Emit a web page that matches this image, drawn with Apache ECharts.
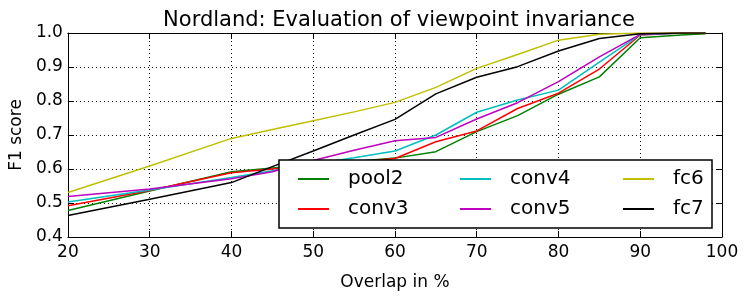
<!DOCTYPE html>
<html>
<head>
<meta charset="utf-8">
<script src="https://cdn.jsdelivr.net/npm/echarts@6/dist/echarts.min.js"></script>
<style>html,body{margin:0;padding:0;background:#fff;}#c{width:748px;height:296px;}</style>
</head>
<body>
<div id="c"></div>
<script>
const overlap = [20,30,40,45,50,55,60,65,70,75,80,85,90,95,98];
const pool2 = [0.478,0.535,0.592,0.603,0.613,0.622,0.632,0.651,0.710,0.757,0.820,0.871,0.986,0.994,0.998];
const conv3 = [0.492,0.537,0.589,0.600,0.610,0.620,0.631,0.680,0.712,0.778,0.823,0.894,0.994,1.0,1.0];
const conv4 = [0.503,0.538,0.575,0.595,0.615,0.633,0.653,0.700,0.767,0.803,0.832,0.914,0.995,1.0,1.0];
const conv5 = [0.519,0.541,0.571,0.592,0.625,0.655,0.683,0.693,0.747,0.795,0.857,0.930,0.996,1.0,1.0];
const fc6 = [0.531,0.609,0.690,0.716,0.742,0.768,0.796,0.840,0.896,0.937,0.979,0.996,1.0,1.0,1.0];
const fc7 = [0.463,0.511,0.560,0.607,0.653,0.700,0.746,0.821,0.870,0.901,0.947,0.984,0.998,1.0,1.0];
const seriesNames = ['pool2','conv3','conv4','conv5','fc6','fc7'];
const seriesValues = [pool2, conv3, conv4, conv5, fc6, fc7];
const colors = ['#008000','#ff0000','#00bfbf','#bf00bf','#bfbf00','#000000'];
const xTicks = {min:20, max:100, interval:10};
const yTicks = {min:0.4, max:1.0, interval:0.1};

const FONT = 'DejaVu Sans';
const chart = echarts.init(document.getElementById('c'), null, {renderer:'canvas'});
const axisLine = {show:true, lineStyle:{color:'#000', width:1}};
const tick = {show:true, inside:true, length:6, lineStyle:{color:'#000', width:1}};
const grid = {show:true, lineStyle:{color:'#000', width:1, type:[1,3]}};

const legendCommon = {
  orient:'vertical', icon:'rect', itemWidth:31, itemHeight:2, itemGap:10,
  textStyle:{fontFamily:FONT, fontSize:20, color:'#000', padding:[0,0,0,14]},
  selectedMode:false, z:10
};

chart.setOption({
  animation:false,
  backgroundColor:'#fff',
  title:{text:'Nordland: Evaluation of viewpoint invariance', left:394, top:5, textAlign:'center',
    textStyle:{fontFamily:FONT, fontSize:21, fontWeight:'normal', color:'#000'}},
  grid:{left:66, right:26, top:33, bottom:59},
  xAxis:[
    {type:'value', min:xTicks.min, max:xTicks.max, interval:xTicks.interval, position:'bottom',
     name:'Overlap in %', nameLocation:'middle', nameGap:37,
     nameTextStyle:{fontFamily:FONT, fontSize:17, color:'#000'},
     axisLine:axisLine, axisTick:tick, splitLine:grid,
     axisLabel:{fontFamily:FONT, fontSize:17, color:'#000', margin:7}},
    {type:'value', min:xTicks.min, max:xTicks.max, interval:xTicks.interval, position:'top',
     axisLine:axisLine, axisTick:tick, splitLine:{show:false}, axisLabel:{show:false}}
  ],
  yAxis:[
    {type:'value', min:yTicks.min, max:yTicks.max, interval:yTicks.interval, position:'left',
     name:'F1 score', nameLocation:'middle', nameGap:34, nameRotate:90,
     nameTextStyle:{fontFamily:FONT, fontSize:17, color:'#000'},
     axisLine:axisLine, axisTick:tick, splitLine:grid,
     axisLabel:{fontFamily:FONT, fontSize:17, color:'#000', margin:5, formatter:v=>v.toFixed(1)}},
    {type:'value', min:yTicks.min, max:yTicks.max, interval:yTicks.interval, position:'right',
     axisLine:axisLine, axisTick:tick, splitLine:{show:false}, axisLabel:{show:false}}
  ],
  legend:[
    Object.assign({data:['pool2','conv3'], left:293, top:164}, legendCommon),
    Object.assign({data:['conv4','conv5'], left:455, top:164}, legendCommon),
    Object.assign({data:['fc6','fc7'], left:618, top:164}, legendCommon)
  ],
  graphic:[{type:'rect', shape:{x:279, y:160, width:433, height:68},
    style:{fill:'#fff', stroke:'#000', lineWidth:1.5}, z:8}],
  series: seriesNames.map((n,i)=>({
    name:n, type:'line', xAxisIndex:0, yAxisIndex:0,
    data: overlap.map((x,j)=>[x, seriesValues[i][j]]),
    symbol:'none', color:colors[i],
    lineStyle:{width:1.5, color:colors[i]}, z:2+i*0.01
  }))
});
</script>
</body>
</html>
